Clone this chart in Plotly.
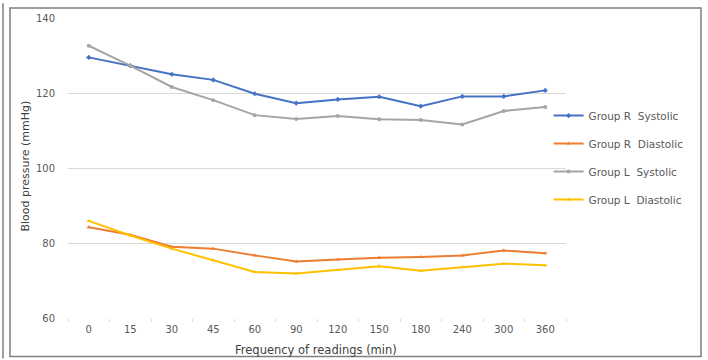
import plotly.graph_objects as go

categories = ["0", "15", "30", "45", "60", "90", "120", "150", "180", "240", "300", "360"]
r_systolic = [129.5, 127.3, 125.0, 123.5, 119.8, 117.3, 118.3, 119.0, 116.5, 119.1, 119.1, 120.7]
r_diastolic = [84.2, 82.2, 79.0, 78.5, 76.7, 75.1, 75.6, 76.1, 76.3, 76.7, 78.0, 77.3]
l_systolic = [132.6, 127.3, 121.6, 118.1, 114.1, 113.1, 113.9, 113.0, 112.8, 111.6, 115.2, 116.3]
l_diastolic = [85.9, 82.0, 78.5, 75.4, 72.3, 71.9, 72.8, 73.8, 72.6, 73.6, 74.5, 74.1]
y_ticks = [60, 80, 100, 120, 140]

series = [
    ("Group R  Systolic", r_systolic, "#4472C4", "diamond"),
    ("Group R  Diastolic", r_diastolic, "#ED7D31", "triangle-up"),
    ("Group L  Systolic", l_systolic, "#A5A5A5", "circle"),
    ("Group L  Diastolic", l_diastolic, "#FFC000", "triangle-up"),
]

FONT = "DejaVu Sans, Liberation Sans, Arial, sans-serif"

fig = go.Figure()
for i, (name, vals, color, sym) in enumerate(series):
    fig.add_trace(go.Scatter(
        x=categories, y=vals, name=name, mode="lines+markers",
        line=dict(color=color, width=2),
        marker=dict(symbol=sym, size=4, color=color),
        legendgroup=f"g{i}",
    ))

L, R, T, B = 68, 142, 15, 42
W, H = 708, 360
pw, ph = W - L - R, H - T - B

def px(xp):
    return (xp - L) / pw

def py(yp):
    return (H - B - yp) / ph

fig.update_layout(
    width=W, height=H,
    margin=dict(l=L, r=R, t=T, b=B),
    paper_bgcolor="white", plot_bgcolor="white",
    font=dict(family=FONT, size=9, color="#595959"),
    showlegend=True,
    legend=dict(
        x=0.965, y=py(156), xanchor="left", yanchor="middle",
        font=dict(family=FONT, size=10.5, color="#595959"),
        traceorder="grouped", tracegroupgap=9,
        bgcolor="rgba(0,0,0,0)",
    ),
    xaxis=dict(
        type="category", showgrid=False, zeroline=False,
        showline=False, ticks="outside", ticklen=3, tickcolor="#D9D9D9",
        tickson="boundaries",
        tickfont=dict(family=FONT, size=10, color="#595959"),
        ticklabelstandoff=4,
        range=[-0.5, len(categories) - 0.5],
        fixedrange=True,
    ),
    yaxis=dict(
        range=[60, 140], tickvals=y_ticks, ticktext=[str(v) for v in y_ticks],
        showgrid=True, gridcolor="#D9D9D9", gridwidth=1, zeroline=False,
        showline=False, tickfont=dict(family=FONT, size=10, color="#595959"),
        ticklabelstandoff=12,
        fixedrange=True,
    ),
    annotations=[
        dict(text="Blood pressure (mmHg)", xref="paper", yref="paper",
             x=px(26), y=py(165), textangle=-90, showarrow=False,
             font=dict(family=FONT, size=11, color="#404040"), xanchor="center", yanchor="middle"),
        dict(text="Frequency of readings (min)", xref="paper", yref="paper",
             x=px(316), y=py(350), showarrow=False,
             font=dict(family=FONT, size=11.5, color="#404040"), xanchor="center", yanchor="middle"),
    ],
    shapes=[
        dict(type="rect", xref="paper", yref="paper",
             x0=px(10), x1=px(701), y0=py(357), y1=py(5),
             line=dict(color="#7F7F7F", width=1.5), fillcolor="rgba(0,0,0,0)", layer="below"),
        dict(type="line", xref="paper", yref="paper",
             x0=px(3), x1=px(3), y0=py(359), y1=py(0),
             line=dict(color="#7F7F7F", width=1.5)),
    ],
)

fig.write_html(
    "out.html",
    config={"displayModeBar": False, "staticPlot": True},
    post_script="document.body.style.margin='0';document.body.style.overflow='hidden';",
)
